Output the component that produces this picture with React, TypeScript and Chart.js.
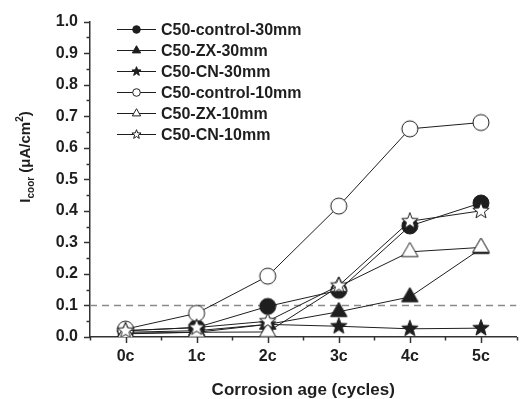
import React, { useEffect, useRef } from 'react';
import { Chart, registerables } from 'chart.js';

Chart.register(...registerables);

// ---------- data ----------
const categories = ['0c', '1c', '2c', '3c', '4c', '5c'];
const seriesNames = [
  'C50-control-30mm',
  'C50-ZX-30mm',
  'C50-CN-30mm',
  'C50-control-10mm',
  'C50-ZX-10mm',
  'C50-CN-10mm',
];
const control30 = [0.02, 0.03, 0.097, 0.148, 0.352, 0.425];
const zx30 = [0.015, 0.02, 0.04, 0.08, 0.127, 0.28];
const cn30 = [0.01, 0.015, 0.04, 0.034, 0.026, 0.028];
const control10 = [0.025, 0.075, 0.193, 0.415, 0.66, 0.68];
const zx10 = [0.012, 0.015, 0.016, 0.16, 0.27, 0.284];
const cn10 = [0.02, 0.03, 0.05, 0.163, 0.367, 0.4];
const thresholdValue = 0.1;
const yMin = 0;
const yMax = 1.0;
const xMin = -0.5;
const xMax = 5.5;
const xTitle = 'Corrosion age (cycles)';

// ---------- style ----------
const INK = '#1e1e1e';
const FONT = '"Liberation Sans", Arial, sans-serif';
const seriesValues = [control30, zx30, cn30, control10, zx10, cn10];
const markerKinds = ['circle', 'triangle', 'star', 'circle', 'triangle', 'star'];
const markerFilled = [true, true, true, false, false, false];
const markerSize: Record<string, number> = { circle: 8, triangle: 9.5, star: 8.6 };
const legendSize: Record<string, number> = { circle: 3.8, triangle: 4.8, star: 4.8 };

function drawMarker(ctx: CanvasRenderingContext2D, kind: string, filled: boolean, x: number, y: number, r: number) {
  ctx.save();
  ctx.beginPath();
  if (kind === 'circle') {
    ctx.arc(x, y, r, 0, Math.PI * 2);
  } else if (kind === 'triangle') {
    for (let i = 0; i < 3; i++) {
      const a = -Math.PI / 2 + (i * 2 * Math.PI) / 3;
      const px = x + r * Math.cos(a);
      const py = y + r * Math.sin(a);
      if (i === 0) ctx.moveTo(px, py);
      else ctx.lineTo(px, py);
    }
    ctx.closePath();
  } else {
    for (let i = 0; i < 10; i++) {
      const a = -Math.PI / 2 + (i * Math.PI) / 5;
      const rr = i % 2 ? r * 0.42 : r;
      const px = x + rr * Math.cos(a);
      const py = y + rr * Math.sin(a);
      if (i === 0) ctx.moveTo(px, py);
      else ctx.lineTo(px, py);
    }
    ctx.closePath();
  }
  ctx.fillStyle = filled ? INK : '#ffffff';
  ctx.fill();
  ctx.lineWidth = 1;
  ctx.strokeStyle = INK;
  ctx.stroke();
  ctx.restore();
}

function markerCanvas(kind: string, filled: boolean, r: number) {
  const c = document.createElement('canvas');
  const s = Math.ceil(2 * r + 4);
  c.width = s;
  c.height = s;
  const cx = c.getContext('2d') as CanvasRenderingContext2D;
  drawMarker(cx, kind, filled, s / 2, s / 2, r);
  return c;
}

const decorPlugin = {
  id: 'decor',
  afterDraw(chart: any) {
    const { ctx, chartArea, scales } = chart;
    const x = scales.x;
    const y = scales.y;
    ctx.save();
    // tick marks (outward, minor shorter)
    ctx.strokeStyle = '#333';
    ctx.lineWidth = 1.5;
    y.ticks.forEach((t: any) => {
      const py = Math.round(y.getPixelForValue(t.value)) + 0.5;
      const major = Math.abs(t.value * 10 - Math.round(t.value * 10)) < 1e-6;
      const len = major ? 6 : 3.5;
      ctx.beginPath();
      ctx.moveTo(chartArea.left - len, py);
      ctx.lineTo(chartArea.left, py);
      ctx.stroke();
    });
    x.ticks.forEach((t: any) => {
      const px = Math.round(x.getPixelForValue(t.value)) + 0.5;
      const major = Math.abs(t.value - Math.round(t.value)) < 1e-6;
      const len = major ? 6 : 3.5;
      ctx.beginPath();
      ctx.moveTo(px, chartArea.bottom);
      ctx.lineTo(px, chartArea.bottom + len);
      ctx.stroke();
    });

    // x axis title
    ctx.fillStyle = INK;
    ctx.font = `bold 17px ${FONT}`;
    ctx.textAlign = 'center';
    ctx.textBaseline = 'alphabetic';
    ctx.fillText(xTitle, (chartArea.left + chartArea.right) / 2, 395);

    // y axis title: I_coor (μA/cm²)
    const parts = [
      { t: 'I', f: `bold 15px ${FONT}`, dy: 0 },
      { t: 'coor', f: `bold 10px ${FONT}`, dy: 4 },
      { t: ' (\u03bcA/cm', f: `bold 15px ${FONT}`, dy: 0 },
      { t: '2', f: `bold 10px ${FONT}`, dy: -7 },
      { t: ')', f: `bold 15px ${FONT}`, dy: 0 },
    ];
    let total = 0;
    const widths = parts.map((p) => {
      ctx.font = p.f;
      const w = ctx.measureText(p.t).width;
      total += w;
      return w;
    });
    ctx.translate(30, 157);
    ctx.rotate(-Math.PI / 2);
    ctx.textAlign = 'left';
    ctx.textBaseline = 'alphabetic';
    let cx = -total / 2;
    parts.forEach((p, i) => {
      ctx.font = p.f;
      ctx.fillText(p.t, cx, p.dy);
      cx += widths[i];
    });
    ctx.setTransform(1, 0, 0, 1, 0, 0);

    // legend
    const lx0 = 117;
    const lx1 = 156;
    const ly0 = 29.5;
    const step = 21;
    seriesNames.forEach((name, i) => {
      const ly = ly0 + i * step;
      ctx.strokeStyle = INK;
      ctx.lineWidth = 1.2;
      ctx.beginPath();
      ctx.moveTo(lx0, ly);
      ctx.lineTo(lx1, ly);
      ctx.stroke();
      drawMarker(ctx, markerKinds[i], markerFilled[i], (lx0 + lx1) / 2, ly, legendSize[markerKinds[i]]);
      ctx.fillStyle = INK;
      ctx.font = `bold 16px ${FONT}`;
      ctx.textAlign = 'left';
      ctx.textBaseline = 'middle';
      ctx.fillText(name, 161, ly + 1);
    });
    ctx.restore();
  },
};

export default function App() {
  const ref = useRef<HTMLCanvasElement | null>(null);

  useEffect(() => {
    if (!ref.current) return;
    const datasets: any[] = seriesNames.map((name, i) => ({
      label: name,
      data: seriesValues[i].map((v, j) => ({ x: j, y: v })),
      borderColor: INK,
      borderWidth: 1,
      pointStyle: markerCanvas(markerKinds[i], markerFilled[i], markerSize[markerKinds[i]]),
      pointRadius: markerSize[markerKinds[i]],
      order: seriesNames.length - i,
      tension: 0,
    }));
    datasets.push({
      label: 'threshold',
      data: [
        { x: xMin, y: thresholdValue },
        { x: xMax, y: thresholdValue },
      ],
      borderColor: '#8a8a8a',
      borderWidth: 1.5,
      borderDash: [7, 5],
      pointRadius: 0,
      order: 20,
    });

    const chart = new Chart(ref.current, {
      type: 'line',
      data: { datasets },
      plugins: [decorPlugin],
      options: {
        responsive: false,
        animation: false,
        events: [],
        devicePixelRatio: 1,
        layout: { padding: { left: 0, right: 0, top: 19, bottom: 0 } },
        plugins: { legend: { display: false }, tooltip: { enabled: false } },
        scales: {
          x: {
            type: 'linear',
            min: xMin,
            max: xMax,
            afterFit: (s: any) => {
              s.height = 62;
            },
            grid: { display: true, drawOnChartArea: false, drawTicks: false, color: 'rgba(0,0,0,0)' },
            border: { display: true, color: '#333', width: 1.5 },
            ticks: {
              stepSize: 0.5,
              autoSkip: false,
              maxRotation: 0,
              padding: 10,
              color: INK,
              font: { family: FONT, size: 16, weight: 'bold' },
              callback: (v: any) => {
                const n = Number(v);
                return Number.isInteger(n) && n >= 0 && n < categories.length ? categories[n] : '';
              },
            },
          },
          y: {
            type: 'linear',
            min: yMin,
            max: yMax,
            afterFit: (s: any) => {
              s.width = 90;
            },
            grid: { display: true, drawOnChartArea: false, drawTicks: false, color: 'rgba(0,0,0,0)' },
            border: { display: true, color: '#333', width: 1.5 },
            ticks: {
              stepSize: 0.05,
              autoSkip: false,
              padding: 12,
              color: INK,
              font: { family: FONT, size: 16, weight: 'bold' },
              callback: (v: any) => {
                const n = Number(v);
                const k = Math.round(n * 10);
                return Math.abs(n * 10 - k) < 1e-6 ? (k / 10).toFixed(1) : '';
              },
            },
          },
        },
      },
    });
    return () => chart.destroy();
  }, []);

  return (
    <div style={{ position: 'absolute', left: 0, top: 0, width: 527, height: 399, background: '#fff' }}>
      <canvas ref={ref} width={527} height={399} style={{ display: 'block' }} />
    </div>
  );
}
